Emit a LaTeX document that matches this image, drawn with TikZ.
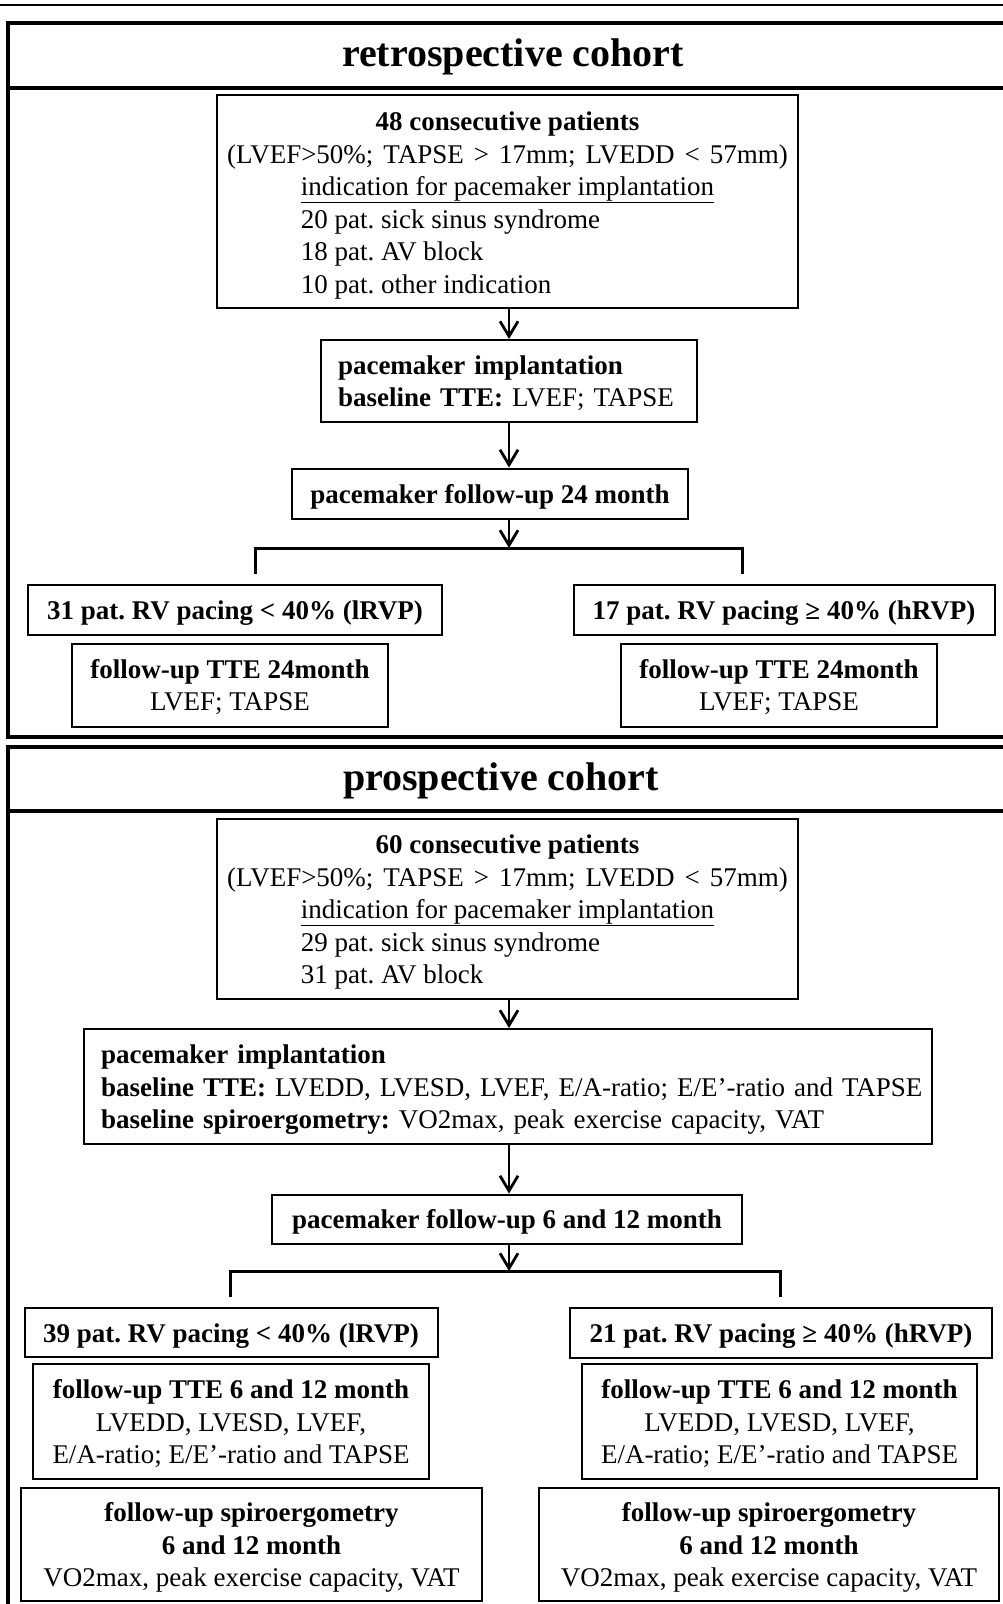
\documentclass[tikz,border=0pt]{standalone}
\usepackage{fontspec}
\setmainfont{Liberation Serif}
\usetikzlibrary{arrows.meta,positioning}
\newcommand{\boxfont}{\fontsize{27}{32.5}\selectfont\frenchspacing}
\newcommand{\headfont}{\fontsize{40}{46}\selectfont\bfseries}
\newcommand{\indline}[1]{\rlap{#1}\phantom{indication for pacemaker implantation}}
\newcommand{\widespace}{\spaceskip=10pt plus 2pt minus 1pt\relax}

\begin{document}
\begin{tikzpicture}[x=1pt, y=-1pt, >={Straight Barb[length=15pt,width=18pt]},
    block/.style={rectangle, draw, line width=2pt, inner sep=0pt, align=center, font=\boxfont, text height=23pt, text depth=4pt},
    leftblock/.style={block, align=left, inner xsep=17pt, text height=20pt},
    head/.style={font=\headfont, inner sep=0pt},
    frame/.style={draw, line width=4pt},
    line/.style={draw, ->, line width=2.8pt},
    branch/.style={draw, line width=3pt, shorten <=10pt, shorten >=10pt}]

    \useasboundingbox (0,0) rectangle (1003,1604);
    \draw[line width=1.2pt] (0,5) -- (1003,5);

    \path[frame] (1010,23) -- (8,23) -- (8,737) -- (1010,737);
    \path[frame] (8,88) -- (1010,88);
    \node [head] (rtitle) at (513,57) {retrospective cohort};

    \node [block, minimum width=581pt, minimum height=213pt, text height=187pt] (r48) at (507.5,201.5) {
        \textbf{48 consecutive patients}\\
        {\widespace(LVEF>50\%; TAPSE > 17mm; LVEDD < 57mm)}\\
        \underline{indication for pacemaker implantation}\\
        \indline{20 pat. sick sinus syndrome}\\
        \indline{18 pat. AV block}\\
        \indline{10 pat. other indication}
    };
    \node [leftblock, text width=342pt, minimum height=82pt, text depth=33.5pt] (rimpl) at (509,381) {
        \textbf{pacemaker implantation}\\
        \textbf{baseline TTE:} LVEF; TAPSE
    };
    \node [block, minimum width=396pt, minimum height=50pt] (rfu) at (490,493.5) {\textbf{pacemaker follow-up 24 month}};
    \node [block, minimum width=414pt, minimum height=50pt] (rlow) at (235,610) {\textbf{31 pat. RV pacing < 40\% (lRVP)}};
    \node [block, right of=rlow, node distance=549pt, minimum width=421pt, minimum height=50pt] (rhigh) {\textbf{17 pat. RV pacing ≥ 40\% (hRVP)}};
    \node [block, minimum width=316pt, minimum height=83pt, text height=55.5pt] (rttel) at (230,685) {
        \textbf{follow-up TTE 24month}\\
        LVEF; TAPSE
    };
    \node [block, right of=rttel, node distance=549pt, minimum width=316pt, minimum height=83pt, text height=55.5pt] (rtter) {
        \textbf{follow-up TTE 24month}\\
        LVEF; TAPSE
    };

    \coordinate (rsplit) at (509,548);
    \coordinate (rsplitl) at (255,548);
    \coordinate (rsplitr) at (742,548);
    \path [line] (r48.south -| rsplit) -- (rimpl.north -| rsplit);
    \path [line] (rimpl.south -| rsplit) -- (rfu.north -| rsplit);
    \path [line] (rfu.south -| rsplit) -- (rsplit);
    \path [branch] (rlow.north -| rsplitl) -- (rsplitl) -- (rsplitr) -- (rhigh.north -| rsplitr);

    \path[frame] (1010,747) -- (8,747) -- (8,1610);
    \path[frame] (8,811) -- (1010,811);
    \node [head] (ptitle) at (501,781) {prospective cohort};

    \node [block, minimum width=581pt, minimum height=180pt, text height=153pt] (p60) at (507.5,909) {
        \textbf{60 consecutive patients}\\
        {\widespace(LVEF>50\%; TAPSE > 17mm; LVEDD < 57mm)}\\
        \underline{indication for pacemaker implantation}\\
        \indline{29 pat. sick sinus syndrome}\\
        \indline{31 pat. AV block}
    };
    \node [leftblock, text width=814pt, minimum height=115pt, text depth=66pt] (pimpl) at (508,1086.5) {
        \textbf{pacemaker implantation}\\
        \mbox{\textbf{baseline TTE:} LVEDD, LVESD, LVEF, E/A-ratio; E/E’-ratio and TAPSE}\\
        \textbf{baseline spiroergometry:} VO2max, peak exercise capacity, VAT
    };
    \node [block, minimum width=470pt, minimum height=49pt] (pfu) at (507,1219) {\textbf{pacemaker follow-up 6 and 12 month}};
    \node [block, minimum width=413pt, minimum height=49pt] (plow) at (231,1332.5) {\textbf{39 pat. RV pacing < 40\% (lRVP)}};
    \node [block, right of=plow, node distance=550pt, minimum width=422pt, minimum height=50pt] (phigh) {\textbf{21 pat. RV pacing ≥ 40\% (hRVP)}};
    \node [block, minimum width=396pt, minimum height=115pt, text height=88pt] (ptel) at (231,1421.5) {
        \textbf{follow-up TTE 6 and 12 month}\\
        LVEDD, LVESD, LVEF,\\
        E/A-ratio; E/E’-ratio and TAPSE
    };
    \node [block, right of=ptel, node distance=548.5pt, minimum width=395pt, minimum height=115pt, text height=88pt] (pter) {
        \textbf{follow-up TTE 6 and 12 month}\\
        LVEDD, LVESD, LVEF,\\
        E/A-ratio; E/E’-ratio and TAPSE
    };
    \node [block, minimum width=461pt, minimum height=113pt, text height=88pt] (pspl) at (251.5,1544.5) {
        \textbf{follow-up spiroergometry}\\
        \textbf{6 and 12 month}\\
        VO2max, peak exercise capacity, VAT
    };
    \node [block, right of=pspl, node distance=517.5pt, minimum width=460pt, minimum height=113pt, text height=88pt] (pspr) {
        \textbf{follow-up spiroergometry}\\
        \textbf{6 and 12 month}\\
        VO2max, peak exercise capacity, VAT
    };

    \coordinate (psplit) at (509,1271);
    \coordinate (psplitl) at (230,1271);
    \coordinate (psplitr) at (780,1271);
    \path [line] (p60.south -| psplit) -- (pimpl.north -| psplit);
    \path [line] (pimpl.south -| psplit) -- (pfu.north -| psplit);
    \path [line] (pfu.south -| psplit) -- (psplit);
    \path [branch] (plow.north -| psplitl) -- (psplitl) -- (psplitr) -- (phigh.north -| psplitr);
\end{tikzpicture}
\end{document}
